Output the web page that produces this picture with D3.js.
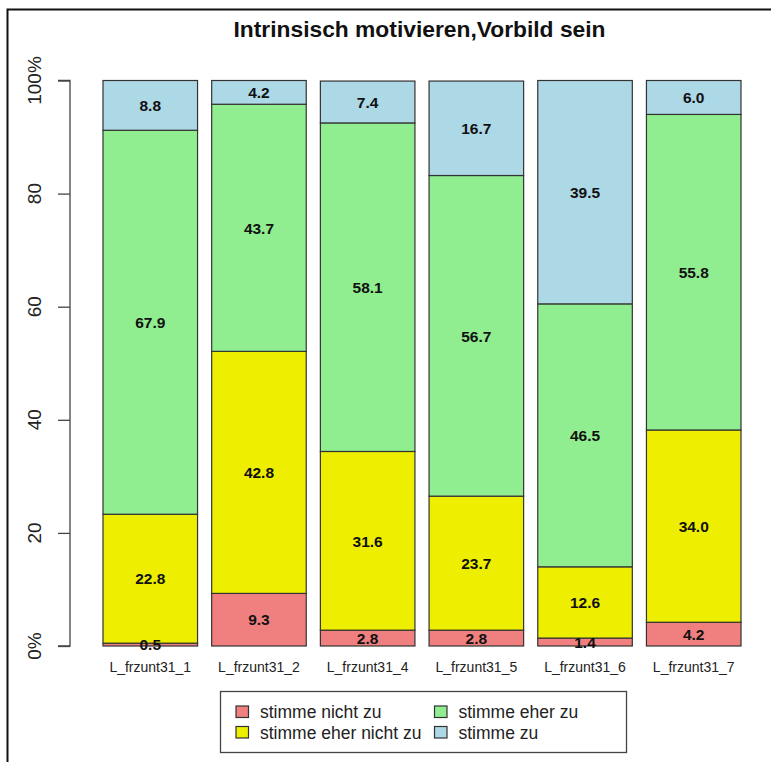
<!DOCTYPE html>
<html>
<head>
<meta charset="utf-8">
<script src="https://cdn.jsdelivr.net/npm/d3@7"></script>
<style>
  html, body { margin: 0; padding: 0; background: #fff; }
  svg { display: block; font-family: Arial, "Liberation Sans", sans-serif; }
</style>
</head>
<body>
<svg id="chart" width="771" height="762"></svg>
<script>
// Items of the survey block, one stacked bar each
const categories = ["L_frzunt31_1", "L_frzunt31_2", "L_frzunt31_4", "L_frzunt31_5", "L_frzunt31_6", "L_frzunt31_7"];

// Answer levels, bottom to top
const levels = ["stimme nicht zu", "stimme eher nicht zu", "stimme eher zu", "stimme zu"];
const levelColors = ["#F08080", "#EEEE00", "#90EE90", "#ADD8E6"];

// Percent per level, one value per item
const nichtZu      = [0.5,  9.3,  2.8,  2.8,  1.4,  4.2];
const eherNichtZu  = [22.8, 42.8, 31.6, 23.7, 12.6, 34.0];
const eherZu       = [67.9, 43.7, 58.1, 56.7, 46.5, 55.8];
const zu           = [8.8,  4.2,  7.4,  16.7, 39.5, 6.0];

const yTicks = [0, 20, 40, 60, 80, 100];
const yTickLabels = ["0%", "20", "40", "60", "80", "100%"];

const title = "Intrinsisch motivieren,Vorbild sein";

const series = [nichtZu, eherNichtZu, eherZu, zu];
const rows = categories.map((c, i) => {
  const r = { cat: c };
  levels.forEach((l, k) => { r[l] = series[k][i]; });
  return r;
});

const svg = d3.select("#chart");

// outer frame (left and top edges)
svg.append("path")
  .attr("d", "M7.5,762 L7.5,9.5 L771,9.5")
  .attr("fill", "none")
  .attr("stroke", "#111")
  .attr("stroke-width", 2);

const x = d3.scaleBand()
  .domain(categories)
  .range([103, 741])
  .paddingInner(0.13)
  .paddingOuter(0);

const y = d3.scaleLinear().domain([0, 100]).range([646, 80.5]);

const stacked = d3.stack().keys(levels)(rows);

const g = svg.append("g");

stacked.forEach((layer, k) => {
  g.selectAll(null)
    .data(layer)
    .enter()
    .append("rect")
    .attr("x", d => x(d.data.cat))
    .attr("width", x.bandwidth())
    .attr("y", d => y(d[1]))
    .attr("height", d => y(d[0]) - y(d[1]))
    .attr("fill", levelColors[k])
    .attr("stroke", "#333")
    .attr("stroke-width", 1.2);
});

// value labels centered in each segment
stacked.forEach((layer) => {
  g.selectAll(null)
    .data(layer)
    .enter()
    .append("text")
    .attr("x", d => x(d.data.cat) + x.bandwidth() / 2)
    .attr("y", d => y((d[0] + d[1]) / 2) + 5.7)
    .attr("text-anchor", "middle")
    .attr("font-size", 15.5)
    .attr("font-weight", "bold")
    .attr("fill", "#111")
    .text(d => d3.format(".1f")(d[1] - d[0]));
});

// y axis
const yAxis = d3.axisLeft(y)
  .tickValues(yTicks)
  .tickSize(12)
  .tickFormat("");
const ya = svg.append("g")
  .attr("transform", "translate(70,0)")
  .call(yAxis);
ya.select(".domain").attr("stroke", "#444").attr("stroke-width", 1.3).attr("d", `M-12,${y(100)}H0V${y(0)}H-12`);
ya.selectAll(".tick line").attr("stroke", "#444").attr("stroke-width", 1.3);

svg.append("g")
  .selectAll("text")
  .data(yTicks)
  .enter()
  .append("text")
  .attr("transform", (d) => `translate(41,${y(d)}) rotate(-90)`)
  .attr("text-anchor", "middle")
  .attr("font-size", 19)
  .attr("fill", "#222")
  .text((d, i) => yTickLabels[i]);

// category labels
svg.append("g")
  .selectAll("text")
  .data(categories)
  .enter()
  .append("text")
  .attr("x", d => x(d) + x.bandwidth() / 2)
  .attr("y", 672)
  .attr("text-anchor", "middle")
  .attr("font-size", 14)
  .attr("fill", "#222")
  .text(d => d);

// title
svg.append("text")
  .attr("x", 419.5)
  .attr("y", 37)
  .attr("text-anchor", "middle")
  .attr("font-size", 22.8)
  .attr("font-weight", "bold")
  .attr("fill", "#111")
  .text(title);

// legend
const legend = svg.append("g");
legend.append("rect")
  .attr("x", 220.5).attr("y", 691.5)
  .attr("width", 406).attr("height", 61)
  .attr("fill", "#fff")
  .attr("stroke", "#444")
  .attr("stroke-width", 1.3);

const legPos = [
  { sx: 236, ty: 706 },
  { sx: 236, ty: 726.5 },
  { sx: 434.5, ty: 706 },
  { sx: 434.5, ty: 726.5 }
];
levels.forEach((l, k) => {
  const p = legPos[k];
  legend.append("rect")
    .attr("x", p.sx).attr("y", p.ty)
    .attr("width", 12.5).attr("height", 11.5)
    .attr("fill", levelColors[k])
    .attr("stroke", "#333")
    .attr("stroke-width", 1.2);
  legend.append("text")
    .attr("x", p.sx + 24)
    .attr("y", p.ty + 12)
    .attr("font-size", 17.5)
    .attr("fill", "#222")
    .text(l);
});
</script>
</body>
</html>
